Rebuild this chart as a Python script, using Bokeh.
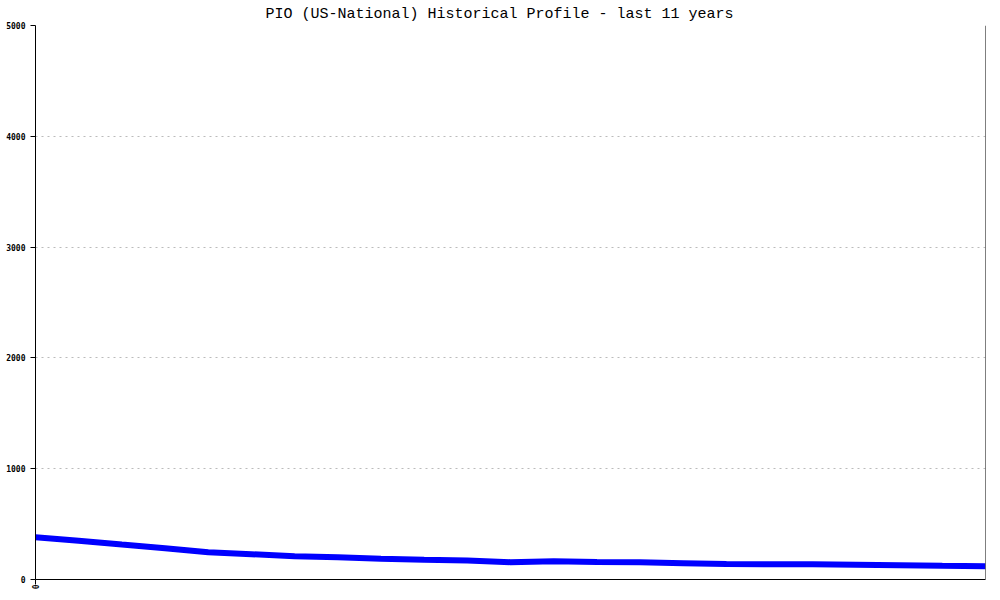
from bokeh.plotting import figure
from bokeh.models import Range1d, FixedTicker, Span, Title
from bokeh.embed import file_html
from bokeh.resources import INLINE
import math

# years since start of the 11-year window
years = [0, 0.5, 1, 1.5, 2, 2.5, 3, 3.5, 4, 4.5, 5, 5.5, 6, 6.5, 7, 7.5, 8, 8.5, 9, 9.5, 10, 10.5, 11]
values = [381, 349, 315, 282, 246, 228, 210, 201, 188, 178, 172, 156, 165, 157, 155, 147, 139, 138, 137, 133, 129, 124, 120]
y_ticks = [0, 1000, 2000, 3000, 4000, 5000]
x_ticks = [0]

p = figure(width=992, height=592, output_backend="svg", toolbar_location=None,
           x_range=Range1d(0, 11), y_range=Range1d(0, 5000),
           min_border_left=35, min_border_right=7, min_border_top=25, min_border_bottom=0)

p.title = Title(text="PIO (US-National) Historical Profile - last 11 years",
                align="left", text_font="Liberation Mono", text_font_size="15px",
                text_font_style="normal", text_color="black", standoff=5, offset=230)

p.line(years, values, line_color="#0000ff", line_width=6)

p.outline_line_color = None
p.background_fill_color = "white"
p.border_fill_color = "white"

# y axis
ya = p.yaxis[0]
ya.ticker = FixedTicker(ticks=y_ticks)
ya.axis_line_color = "black"
ya.major_tick_line_color = "black"
ya.major_tick_out = 5
ya.major_tick_in = 0
ya.minor_tick_line_color = None
ya.major_label_standoff = 5
ya.major_label_text_font = "DejaVu Sans Mono"
ya.major_label_text_font_size = "8px"
ya.major_label_text_font_style = "bold"
ya.major_label_text_color = "black"

# x axis
xa = p.xaxis[0]
xa.ticker = FixedTicker(ticks=x_ticks)
xa.axis_line_color = "black"
xa.major_tick_line_color = "black"
xa.major_tick_out = 5
xa.major_tick_in = 0
xa.minor_tick_line_color = None
xa.major_label_standoff = 0
xa.axis_label_standoff = 0
xa.major_label_orientation = math.pi / 2
xa.major_label_text_font = "DejaVu Sans Mono"
xa.major_label_text_font_size = "8px"
xa.major_label_text_font_style = "bold"
xa.major_label_text_color = "black"

# right border line
p.add_layout(Span(location=11, dimension="height", line_color="black", line_width=1))

p.xgrid.grid_line_color = None
p.ygrid.ticker = FixedTicker(ticks=y_ticks)
p.ygrid.grid_line_color = "#bbbbbb"
p.ygrid.grid_line_dash = "2 4"
p.ygrid.grid_line_width = 1

open("out.html", "w").write(file_html(p, INLINE))
